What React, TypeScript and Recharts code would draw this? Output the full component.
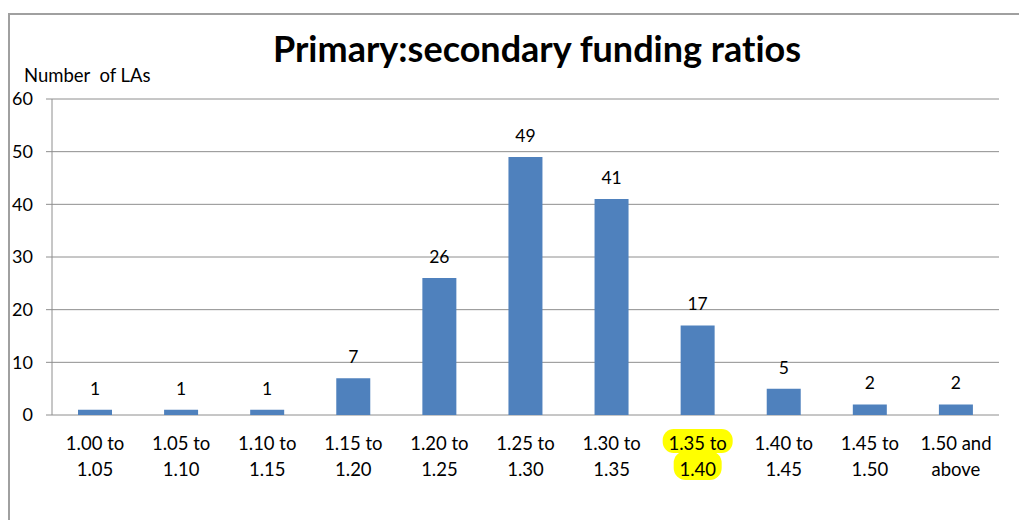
import React from "react";
import { BarChart, Bar, XAxis, YAxis, CartesianGrid, LabelList } from "recharts";

const categories = [
  "1.00 to 1.05",
  "1.05 to 1.10",
  "1.10 to 1.15",
  "1.15 to 1.20",
  "1.20 to 1.25",
  "1.25 to 1.30",
  "1.30 to 1.35",
  "1.35 to 1.40",
  "1.40 to 1.45",
  "1.45 to 1.50",
  "1.50 and above",
];
const numberOfLAs = [1, 1, 1, 7, 26, 49, 41, 17, 5, 2, 2];
const yTicks = [0, 10, 20, 30, 40, 50, 60];
const highlighted = ["1.35 to 1.40"];
const boundaryTicks = [0, 1, 2, 3, 4, 5, 6, 7, 8, 9, 10, 11];

const data = categories.map((c, i) => ({ category: c, value: numberOfLAs[i] }));

const FONT = "Lato, 'Open Sans', sans-serif";
const GRAY = "#8e8e8e";

function splitLabel(s: string): [string, string] {
  const first = s.indexOf(" ");
  const second = s.indexOf(" ", first + 1);
  return [s.slice(0, second), s.slice(second + 1)];
}

const CategoryTick = (props: any) => {
  const { x, y, payload } = props;
  const [a, b] = splitLabel(String(payload.value));
  const hl = highlighted.includes(payload.value);
  return (
    <g transform={`translate(${x},${y})`}>
      {hl && (
        <>
          <rect x={-35} y={14} width={70} height={24} rx={11} fill="#ffff00" />
          <rect x={-24} y={36} width={48} height={29} rx={12} fill="#ffff00" />
        </>
      )}
      <text textAnchor="middle" fontSize={18.5} fill="#000" fontFamily={FONT}>
        <tspan x={0} y={35}>{a}</tspan>
        <tspan x={0} y={61}>{b}</tspan>
      </text>
    </g>
  );
};

export default function App() {
  return (
    <div
      style={{
        position: "absolute",
        left: 0,
        top: 0,
        width: 1019,
        height: 520,
        overflow: "hidden",
        background: "#fff",
      }}
    >
      <div
        style={{
          position: "absolute",
          left: 8,
          top: 13,
          width: 1100,
          height: 600,
          border: "2px solid #a0a0a0",
        }}
      />
      <div style={{ position: "absolute", left: 0, top: 0 }}>
        <BarChart
          width={1019}
          height={520}
          data={data}
          margin={{ top: 99, right: 20, left: 12, bottom: 45 }}
          barCategoryGap="20%"
        >
          <text
            x={537}
            y={62}
            textAnchor="middle"
            fontSize={36}
            fontWeight="bold"
            fontFamily={FONT}
            fill="#000"
            style={{ fontVariantLigatures: "none" }}
          >
            Primary:secondary funding ratios
          </text>
          <text x={24} y={82} fontSize={18.5} fontFamily={FONT} fill="#000" style={{ whiteSpace: "pre" }}>
            Number  of LAs
          </text>
          <CartesianGrid horizontal vertical={false} stroke={GRAY} strokeWidth={1} />
          <XAxis
            xAxisId="edges"
            type="number"
            domain={[0, 11]}
            ticks={boundaryTicks}
            allowDataOverflow
            height={0}
            tickSize={6}
            tickFormatter={() => ""}
            stroke={GRAY}
            interval={0}
          />
          <XAxis
            xAxisId="cat"
            dataKey="category"
            type="category"
            height={60}
            axisLine={false}
            tickLine={false}
            tickSize={0}
            tickMargin={0}
            interval={0}
            tick={<CategoryTick />}
          />
          <YAxis
            domain={[0, 60]}
            ticks={yTicks}
            width={40}
            tickSize={6}
            tickMargin={13}
            stroke={GRAY}
            tick={{ fill: "#000", fontSize: 18, fontFamily: FONT }}
            interval={0}
          />
          <Bar
            dataKey="value"
            xAxisId="cat"
            fill="#4f81bd"
            barSize={34}
            isAnimationActive={false}
          >
            <LabelList
              dataKey="value"
              position="top"
              offset={15}
              fill="#000"
              fontSize={17.5}
              fontFamily={FONT}
            />
          </Bar>
        </BarChart>
      </div>
    </div>
  );
}
